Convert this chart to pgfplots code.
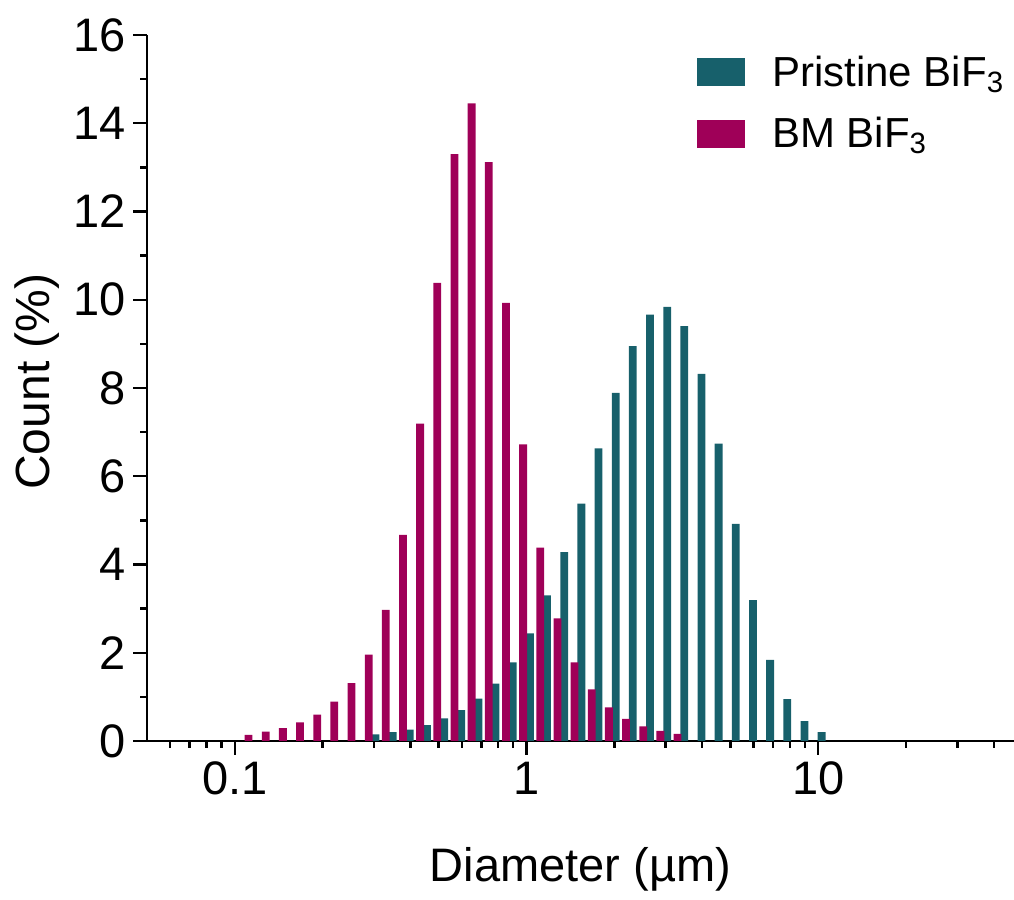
\documentclass[border=0pt]{standalone}
\usepackage{pgfplots}
\pgfplotsset{compat=1.18}
\usepackage{pgfplotstable}
\usepackage{fontspec}
\setmainfont{Liberation Sans}
\definecolor{tealbar}{RGB}{23,96,107}
\definecolor{magbar}{RGB}{159,0,88}

\pgfplotstableread{
d c
0.29550 0.15
0.33836 0.20
0.38744 0.26
0.44363 0.36
0.50798 0.51
0.58166 0.70
0.66602 0.96
0.76262 1.30
0.87323 1.78
1.0000 2.44
1.1450 3.30
1.3111 4.28
1.5013 5.38
1.7190 6.63
1.9684 7.89
2.2538 8.95
2.5807 9.66
2.9550 9.84
3.3836 9.40
3.8744 8.32
4.4363 6.74
5.0798 4.92
5.8166 3.19
6.6602 1.84
7.6262 0.95
8.7323 0.45
10.000 0.20
}\pristine

\pgfplotstableread{
d c
0.11450 0.14
0.13111 0.21
0.15013 0.29
0.17190 0.42
0.19684 0.60
0.22538 0.89
0.25807 1.31
0.29550 1.96
0.33836 2.97
0.38744 4.67
0.44363 7.19
0.50798 10.38
0.58166 13.30
0.66602 14.45
0.76262 13.12
0.87323 9.93
1.0000 6.72
1.1450 4.38
1.3111 2.78
1.5013 1.78
1.7190 1.17
1.9684 0.76
2.2538 0.50
2.5807 0.33
2.9550 0.23
3.3836 0.16
}\ballmilled

\begin{document}
\begin{tikzpicture}
\begin{axis}[
  scale only axis,
  width=433.5pt, height=353pt,
  xmode=log,
  xmin=0.05, xmax=46.9,
  ymin=0, ymax=16,
  axis lines*=left,
  axis line style={line width=1.3pt},
  every tick/.style={line width=1.2pt, black},
  tick align=outside,
  major tick length=7pt,
  minor tick length=3.5pt,
  xtick={0.1,1,10},
  xticklabels={0.1,1,10},
  minor xtick={0.06,0.07,0.08,0.09,0.2,0.3,0.4,0.5,0.6,0.7,0.8,0.9,2,3,4,5,6,7,8,9,20,30,40},
  ytick={0,2,4,6,8,10,12,14,16},
  minor ytick={1,3,5,7,9,11,13,15},
  /pgf/number format/assume math mode=true,
  tick label style={font=\fontsize{23.5}{27}\selectfont},
  xlabel={Diameter (µm)},
  ylabel={Count (\%)},
  every axis x label/.style={at={(axis description cs:0.5,0)}, anchor=base, yshift=-70.3pt, font=\fontsize{23.5}{27}\selectfont},
  every axis y label/.style={at={(axis description cs:0,0.509)}, xshift=-48.5pt, rotate=90, anchor=base, font=\fontsize{24}{28}\selectfont},
  legend style={at={(axis description cs:0.634,0.977)}, anchor=north west, draw=none, fill=none, inner sep=0pt, font=\fontsize{21}{25}\selectfont, row sep=10pt},
  legend cell align=left,
  clip=false,
]
\addplot[ybar, bar width=3.9pt, bar shift=1.7pt, fill=tealbar, draw=none,
  legend image code/.code={\fill[tealbar] (0pt,-7pt) rectangle (24pt,7pt); \path (35.5pt,0pt);}]
  table[x=d, y=c] {\pristine};
\addlegendentry{Pristine BiF\textsubscript{3}}
\addplot[ybar, bar width=3.9pt, bar shift=-1.7pt, fill=magbar, draw=none,
  legend image code/.code={\fill[magbar] (0pt,-7pt) rectangle (24pt,7pt); \path (35.5pt,0pt);}]
  table[x=d, y=c] {\ballmilled};
\addlegendentry{BM BiF\textsubscript{3}}
\end{axis}
\pgfresetboundingbox
\path[use as bounding box] (-73.5pt,-79.5pt) rectangle (433.5pt,370.5pt);
\end{tikzpicture}
\end{document}
